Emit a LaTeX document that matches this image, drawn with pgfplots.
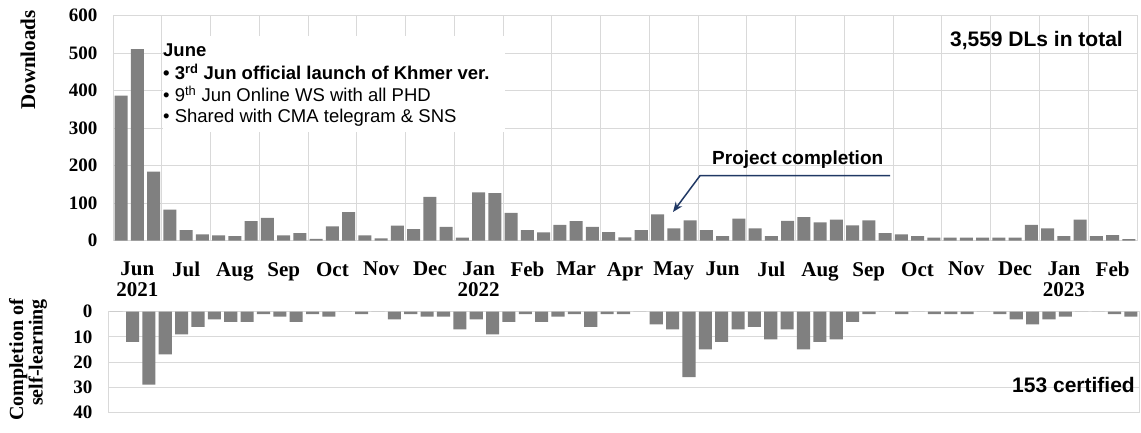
\documentclass[border=0pt]{standalone}
\usepackage{fontspec}
\setmainfont{Liberation Serif}
\newfontfamily\sansf{Liberation Sans}
\usepackage{pgfplots}
\pgfplotsset{compat=1.18}
\usepackage{pgfplotstable}
\usetikzlibrary{arrows.meta}
\definecolor{barg}{RGB}{128,128,128}
\definecolor{gridg}{RGB}{217,217,217}
\definecolor{navy}{RGB}{32,56,100}

\pgfplotstableread{
x y
0 387
1 511
2 184
3 83
4 28
5 17
6 14
7 12
8 52
9 61
10 14
11 20
12 5
13 38
14 76
15 14
16 6
17 40
18 31
19 117
20 37
21 8
22 129
23 127
24 74
25 28
26 22
27 42
28 52
29 37
30 23
31 9
32 28
33 70
34 33
35 54
36 28
37 12
38 59
39 33
40 12
41 53
42 63
43 49
44 56
45 41
46 54
47 20
48 17
49 12
50 8
51 8
52 8
53 8
54 8
55 8
56 42
57 33
58 12
59 56
60 12
61 15
62 4
}\downloads

\pgfplotstableread{
x y
0 0
1 12
2 29
3 17
4 9
5 6
6 3
7 4
8 4
9 1
10 2
11 4
12 1
13 2
14 0
15 1
16 0
17 3
18 1
19 2
20 2
21 7
22 3
23 9
24 4
25 1
26 4
27 2
28 1
29 6
30 1
31 1
32 0
33 5
34 7
35 26
36 15
37 12
38 7
39 6
40 11
41 7
42 15
43 12
44 11
45 4
46 1
47 0
48 1
49 0
50 1
51 1
52 1
53 0
54 1
55 3
56 5
57 3
58 2
59 0
60 0
61 1
62 2
}\certified

\pgfplotsset{
  mybase/.style={
    scale only axis,
    ybar, bar width=0.8,
    xmin=-0.5, xmax=62.5,
    enlargelimits=false,
    axis line style={gridg, line width=0.9pt},
    major tick length=0pt, minor tick length=0pt,
    minor xtick={-0.5,2.5,...,62.5},
    xminorgrids, ymajorgrids,
    major grid style={gridg, line width=0.9pt},
    minor grid style={gridg, line width=0.9pt},
    /pgf/number format/assume math mode=true,
    yticklabel style={font=\fontsize{19}{19}\selectfont\bfseries, xshift=-12pt},
  }
}

\begin{document}
\begin{tikzpicture}[x=1pt,y=1pt]
\path[use as bounding box] (0,0) rectangle (1141,432);

% top chart
\begin{axis}[mybase,
  at={(113pt,191.3pt)}, anchor=south west,
  width=1024pt, height=225pt,
  ymin=0, ymax=600, ytick={0,100,...,600},
  xtick={1,4,...,61},
  xticklabels={{Jun\\2021},Jul,Aug,Sep,Oct,Nov,Dec,{Jan\\2022},Feb,Mar,Apr,May,Jun,Jul,Aug,Sep,Oct,Nov,Dec,{Jan\\2023},Feb},
  xticklabel style={font=\fontsize{21}{21}\selectfont\bfseries, align=center, yshift=-18pt},
]
\addplot[fill=barg, draw=none] table[x=x,y=y] {\downloads};
\end{axis}

% bottom chart
\begin{axis}[mybase,
  at={(108pt,19.7pt)}, anchor=south west,
  width=1031pt, height=100.6pt,
  ymin=0, ymax=40, ytick={0,10,...,40},
  y dir=reverse,
  xtick=\empty,
]
\addplot[fill=barg, draw=none] table[x=x,y=y] {\certified};
\end{axis}

% axis titles
\node[rotate=90, font=\fontsize{21}{21}\selectfont\bfseries] at (28,372) {Downloads};
\node[rotate=90, align=right, font=\fontsize{20}{17}\selectfont\bfseries] at (28,72) {Completion of\\self-learning};

% June annotation
\fill[white] (163,300) rectangle (505,396);
\begin{scope}[every node/.style={anchor=base west, inner sep=0pt}]
\node[font=\sansf\bfseries\fontsize{18.5}{18}\selectfont] at (163,375) {June};
\node[font=\sansf\bfseries\fontsize{18.5}{18}\selectfont] at (163,352) {• 3\textsuperscript{rd} Jun official launch of Khmer ver.};
\node[font=\sansf\fontsize{18.5}{18}\selectfont] at (163,330) {• 9\textsuperscript{th} Jun Online WS with all PHD};
\node[font=\sansf\fontsize{18.5}{18}\selectfont] at (163,309) {• Shared with CMA telegram \& SNS};
\node[font=\sansf\bfseries\fontsize{19}{19}\selectfont] at (712,268) {Project completion};
\end{scope}
\draw[navy, line width=1.5pt, -{Stealth[length=10pt,width=8pt]}] (890,256.3) -- (700,256.3) -- (673,220);

\node[anchor=base east, inner sep=0pt, font=\sansf\bfseries\fontsize{21}{21}\selectfont] at (1123,385) {3,559 DLs in total};
\node[anchor=base east, inner sep=0pt, font=\sansf\bfseries\fontsize{21}{21}\selectfont] at (1135,40) {153 certified};
\end{tikzpicture}
\end{document}
